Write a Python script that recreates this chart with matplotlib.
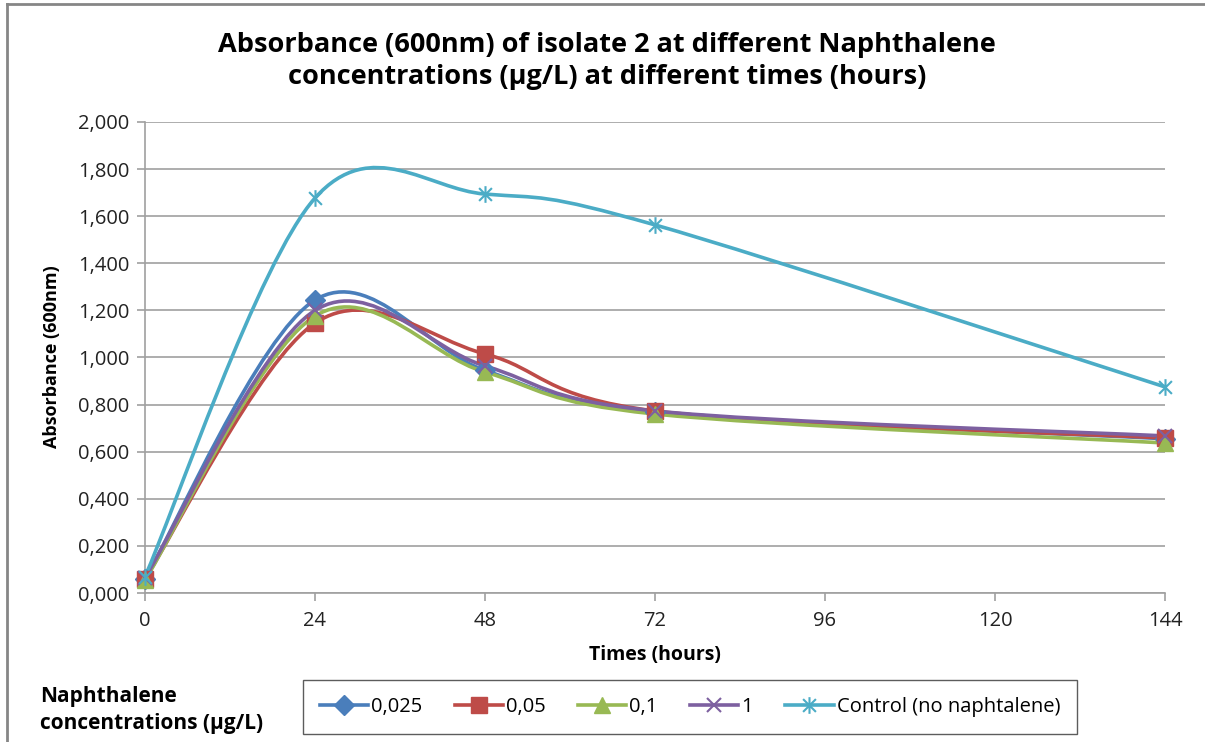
import numpy as np
import matplotlib
matplotlib.use("Agg")
import matplotlib.pyplot as plt
from matplotlib.path import Path
from matplotlib.patches import PathPatch
from matplotlib.lines import Line2D
from matplotlib.ticker import FuncFormatter, MultipleLocator

# data
hours = [0, 24, 48, 72, 144]
conc_0025 = [0.060, 1.244, 0.945, 0.770, 0.655]
conc_005 = [0.060, 1.146, 1.015, 0.773, 0.658]
conc_01 = [0.055, 1.176, 0.938, 0.760, 0.637]
conc_1 = [0.065, 1.200, 0.964, 0.773, 0.667]
control = [0.070, 1.677, 1.694, 1.563, 0.875]

labels = ["0,025", "0,05", "0,1", "1", "Control (no naphtalene)"]
colors = ["#4A7EBB", "#BE4B48", "#98B954", "#7D60A0", "#4BACC6"]

plt.rcParams['font.family'] = ['Open Sans', 'DejaVu Sans']

# asterisk marker like excel's star (x plus vertical bar)
star = Path([(-1, -1), (1, 1), (-1, 1), (1, -1), (0, -1.3), (0, 1.3)],
            [Path.MOVETO, Path.LINETO] * 3)
markers = ["D", "s", "^", "x", star]
msizes = [10, 11, 12, 10, 12]


def smooth_path(x, y):
	'''excel style smoothed line: cubic bezier, catmull-rom control points'''
	pts = np.column_stack([x, y]).astype(float)
	n = len(pts)
	verts = [pts[0]]
	codes = [Path.MOVETO]
	for i in range(n - 1):
		p0 = pts[max(i - 1, 0)]
		p1 = pts[i]
		p2 = pts[i + 1]
		p3 = pts[min(i + 2, n - 1)]
		c1 = p1 + (p2 - p0) / 6.0
		c2 = p2 - (p3 - p1) / 6.0
		verts += [c1, c2, p2]
		codes += [Path.CURVE4] * 3
	return Path(verts, codes)


fig = plt.figure(figsize=(12.05, 7.42), dpi=100)
ax = fig.add_axes([145 / 1205, 1 - 593 / 742, (1165 - 145) / 1205, (593 - 122) / 742])

series = [conc_0025, conc_005, conc_01, conc_1, control]
handles = []
for vals, lab, col, mk, ms in zip(series, labels, colors, markers, msizes):
	ax.add_patch(PathPatch(smooth_path(hours, vals), facecolor='none', edgecolor=col,
		linewidth=2.6, capstyle='round', joinstyle='round', zorder=3))
	mew = 1.5 if mk in ("x",) or mk is star else 1.0
	ax.plot(hours, vals, linestyle='none', marker=mk, markersize=ms, color=col,
		markeredgecolor=col, markeredgewidth=mew, zorder=4, clip_on=False)
	handles.append(Line2D([], [], color=col, linewidth=2.6, marker=mk, markersize=ms,
		markeredgecolor=col, markeredgewidth=mew))

ax.set_xlim(0, 144)
ax.set_ylim(0, 2.0)
ax.xaxis.set_major_locator(MultipleLocator(24))
ax.yaxis.set_major_locator(MultipleLocator(0.2))
ax.yaxis.set_major_formatter(FuncFormatter(lambda v, p: ("%.3f" % v).replace('.', ',')))

ax.grid(True, axis='y', color='#A0A0A0', linewidth=1.2)
ax.set_axisbelow(True)
for s in ['top', 'right']:
	ax.spines[s].set_visible(False)
for s in ['left', 'bottom']:
	ax.spines[s].set_color('#A0A0A0')
	ax.spines[s].set_linewidth(1.2)
ax.tick_params(axis='both', direction='out', length=6, width=1.2, color='#A0A0A0',
	labelsize=14.5, labelcolor='#222222')
ax.tick_params(axis='x', pad=7)
ax.tick_params(axis='y', pad=5)

fig.text(607 / 1205, 1 - 61 / 742,
	"Absorbance (600nm) of isolate 2 at different Naphthalene\nconcentrations (\u00b5g/L) at different times (hours)",
	ha='center', va='center', fontsize=19.5, fontweight='bold', linespacing=1.35)
fig.text(655 / 1205, 1 - 655 / 742, "Times (hours)", ha='center', va='center',
	fontsize=14, fontweight='bold')
fig.text(52 / 1205, 1 - 357 / 742, "Absorbance (600nm)", ha='center', va='center',
	rotation=90, fontsize=13, fontweight='bold')
fig.text(40 / 1205, 1 - 710 / 742, "Naphthalene\nconcentrations (\u00b5g/L)", ha='left',
	va='center', fontsize=15, fontweight='bold', linespacing=1.35)

leg = fig.legend(handles, labels, loc='center', bbox_to_anchor=(690 / 1205, 1 - 707 / 742),
	ncol=5, frameon=True, fancybox=False, fontsize=14.5, handlelength=2.4,
	handletextpad=0.15, columnspacing=1.6, borderpad=0.85, numpoints=1)
leg.get_frame().set_edgecolor('#333333')
leg.get_frame().set_linewidth(1.0)

# chart area border
fig.add_artist(Line2D([7 / 1205, 7 / 1205], [0, 1 - 4 / 742], color='#868686', linewidth=2))
fig.add_artist(Line2D([7 / 1205, 1], [1 - 4 / 742, 1 - 4 / 742], color='#868686', linewidth=2))

fig.savefig("out.png", dpi=100)
